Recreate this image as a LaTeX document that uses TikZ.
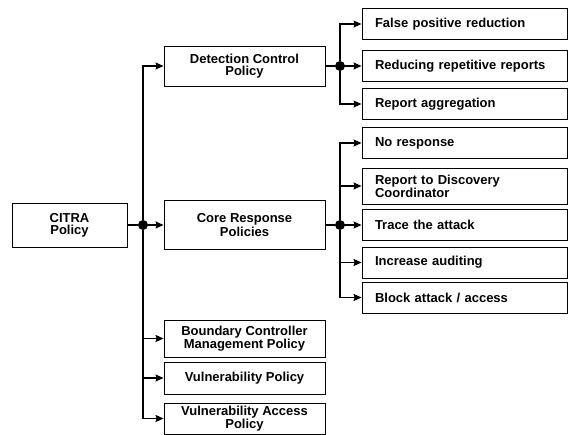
\documentclass[tikz,border=0pt]{standalone}
\usepackage{fontspec}
\setmainfont{Liberation Sans}
\usetikzlibrary{arrows.meta}

\begin{document}
\begin{tikzpicture}[x=1pt, y=-1pt,
    box/.style={draw, line width=0.9pt, minimum width=161pt, align=center,
        inner sep=2pt, font=\fontsize{13}{12}\selectfont\bfseries},
    leaf/.style={draw, line width=0.9pt, text width=179pt, inner xsep=13pt,
        inner ysep=2pt, align=left, minimum height=31pt,
        font=\fontsize{13}{12}\selectfont\bfseries},
    dot/.style={circle, fill, inner sep=0pt, minimum size=10pt},
    link/.style={line width=1.3pt},
    arr/.style={-{Stealth[length=8pt, width=7pt, inset=1pt]}, line width=1.3pt}]

    \useasboundingbox (0, 0) rectangle (574, 435);

    % policy tree, left part
    \node [box, minimum width=115pt, minimum height=44pt] (citra) at (69.5, 225) {CITRA\\Policy};
    \node [box, minimum height=40pt] (det) at (244.5, 66) {Detection Control\\Policy};
    \node [box, minimum height=49pt] (core) at (244.5, 225) {Core Response\\Policies};
    \node [box, minimum height=37pt] (bnd) at (244.5, 338.5) {Boundary Controller\\Management Policy};
    \node [box, minimum height=32pt] (vul) at (244.5, 378) {Vulnerability Policy};
    \node [box, minimum height=31pt] (vacc) at (244.5, 418.5) {Vulnerability Access\\Policy};

    % detection control leaves
    \node [leaf] (fp) at (464.5, 24) {False positive reduction};
    \node [leaf] (rr) at (464.5, 66) {Reducing repetitive reports};
    \node [leaf] (ra) at (464.5, 104) {Report aggregation};

    % core response leaves
    \node [leaf] (nr) at (464.5, 143) {No response};
    \node [leaf, minimum height=36pt] (rd) at (464.5, 186) {Report to Discovery\\Coordinator};
    \node [leaf] (ta) at (464.5, 225) {Trace the attack};
    \node [leaf] (ia) at (464.5, 262.5) {Increase auditing};
    \node [leaf] (ba) at (464.5, 297.5) {Block attack / access};

    \node [dot] (j0) at (143, 225) {};
    \node [dot] (j1) at (340, 66) {};
    \node [dot] (j2) at (340, 225) {};

    \draw [link] (citra) -- (j0);
    \draw [arr] (j0) |- (det.west);
    \draw [arr] (j0) -- (core.west);
    \foreach \n in {bnd, vul, vacc}
        { \draw [arr] (j0) |- (\n.west); }

    \draw [link] (det) -- (j1);
    \foreach \n in {fp, rr, ra}
        { \draw [arr] (j1) |- (\n.west); }

    \draw [link] (core) -- (j2);
    \foreach \n in {nr, rd, ta, ia, ba}
        { \draw [arr] (j2) |- (\n.west); }

\end{tikzpicture}
\end{document}
